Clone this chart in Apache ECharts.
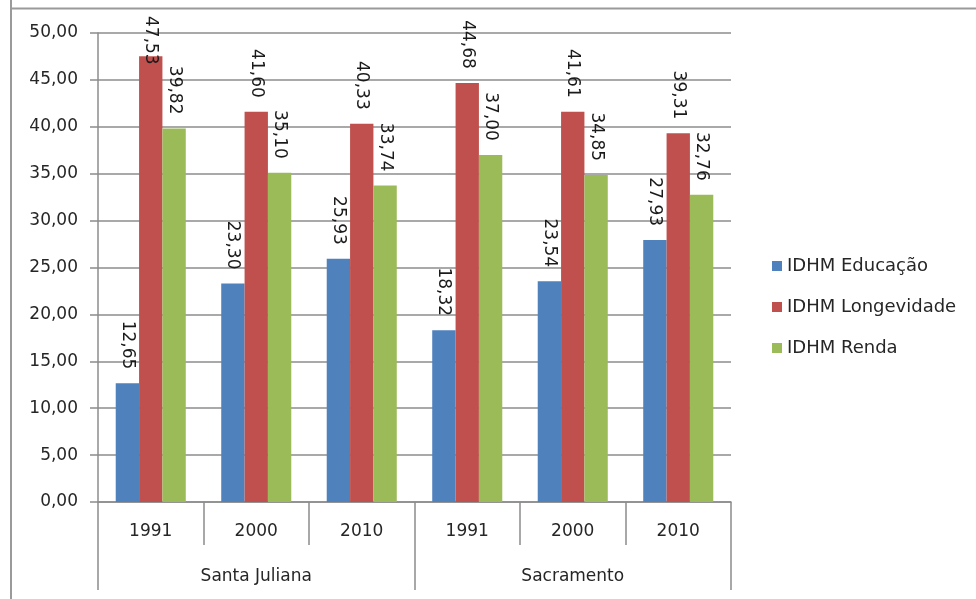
<!DOCTYPE html>
<html>
<head>
<meta charset="utf-8">
<script src="https://cdn.jsdelivr.net/npm/echarts@6/dist/echarts.min.js"></script>
<style>
  html, body { margin: 0; padding: 0; background: #fff; }
  #chart { width: 976px; height: 599px; }
</style>
</head>
<body>
<div id="chart"></div>
<script>
// Years shown under each bar group, and the municipality each triplet belongs to
const years = ['1991', '2000', '2010', '1991', '2000', '2010'];
const places = ['Santa Juliana', 'Sacramento'];

// IDHM components (per cent)
const educacao    = [12.65, 23.30, 25.93, 18.32, 23.54, 27.93];
const longevidade = [47.53, 41.60, 40.33, 44.68, 41.61, 39.31];
const renda       = [39.82, 35.10, 33.74, 37.00, 34.85, 32.76];

const seriesNames = ['IDHM Educação', 'IDHM Longevidade', 'IDHM Renda'];
const seriesColors = ['#4F81BD', '#C0504D', '#9BBB59'];

const FONT = 'DejaVu Sans';
const TXT = '#262626';
const LINE = '#8c8c8c';

const fmt = v => v.toFixed(2).replace('.', ',');

const chart = echarts.init(document.getElementById('chart'), null, { renderer: 'canvas' });

function barSeries(name, data, color) {
  return {
    name: name,
    type: 'bar',
    xAxisIndex: 0,
    data: data,
    barGap: '0%',
    barCategoryGap: '33.6%',
    itemStyle: { color: color },
    label: {
      show: true,
      position: 'top',
      rotate: -90,
      align: 'right',
      verticalAlign: 'middle',
      distance: 14,
      fontFamily: FONT,
      fontSize: 17,
      color: '#1a1a1a',
      formatter: p => fmt(p.value)
    }
  };
}

chart.setOption({
  animation: false,
  backgroundColor: '#fff',
  grid: { left: 98, right: 245, top: 33, bottom: 97, containLabel: false },
  legend: {
    orient: 'vertical',
    left: 767,
    top: 251,
    itemWidth: 10,
    itemHeight: 10,
    itemGap: 21,
    icon: 'rect',
    data: seriesNames,
    textStyle: { fontFamily: FONT, fontSize: 18, color: TXT, lineHeight: 20 }
  },
  xAxis: [
    {
      type: 'category',
      data: years,
      position: 'bottom',
      axisLine: { lineStyle: { color: LINE, width: 1.5 } },
      axisTick: { show: true, interval: 0, length: 43, lineStyle: { color: LINE, width: 1.5 } },
      axisLabel: { interval: 0, margin: 21, fontFamily: FONT, fontSize: 17, color: TXT }
    },
    {
      type: 'category',
      data: places,
      position: 'bottom',
      axisLine: { show: false },
      axisTick: { show: true, interval: 0, length: 88, lineStyle: { color: LINE, width: 1.5 } },
      axisLabel: { interval: 0, margin: 66, fontFamily: FONT, fontSize: 17, color: TXT }
    }
  ],
  yAxis: {
    type: 'value',
    min: 0,
    max: 50,
    interval: 5,
    axisLine: { show: true, lineStyle: { color: LINE, width: 1.5 } },
    axisTick: { show: true, length: 8, lineStyle: { color: LINE, width: 1.5 } },
    splitLine: { lineStyle: { color: LINE, width: 1.5 } },
    axisLabel: { margin: 20, fontFamily: FONT, fontSize: 17, color: TXT, formatter: v => fmt(v) }
  },
  series: [
    barSeries(seriesNames[0], educacao, seriesColors[0]),
    barSeries(seriesNames[1], longevidade, seriesColors[1]),
    barSeries(seriesNames[2], renda, seriesColors[2])
  ],
  // keep rotated value labels inside the chart frame: the anchor is the
  // text's lower end, so push it down until the top clears the frame
  labelLayout: function (params) {
    const r = params.labelRect;
    const minTop = 16;
    if (r.y < minTop) {
      return { y: minTop + r.height };
    }
    return {};
  },
  graphic: [
    { type: 'line', shape: { x1: 11, y1: 0, x2: 11, y2: 599 }, style: { stroke: '#9a9a9a', lineWidth: 2 }, silent: true },
    { type: 'line', shape: { x1: 10, y1: 8.5, x2: 976, y2: 8.5 }, style: { stroke: '#9a9a9a', lineWidth: 2 }, silent: true }
  ]
});
</script>
</body>
</html>
